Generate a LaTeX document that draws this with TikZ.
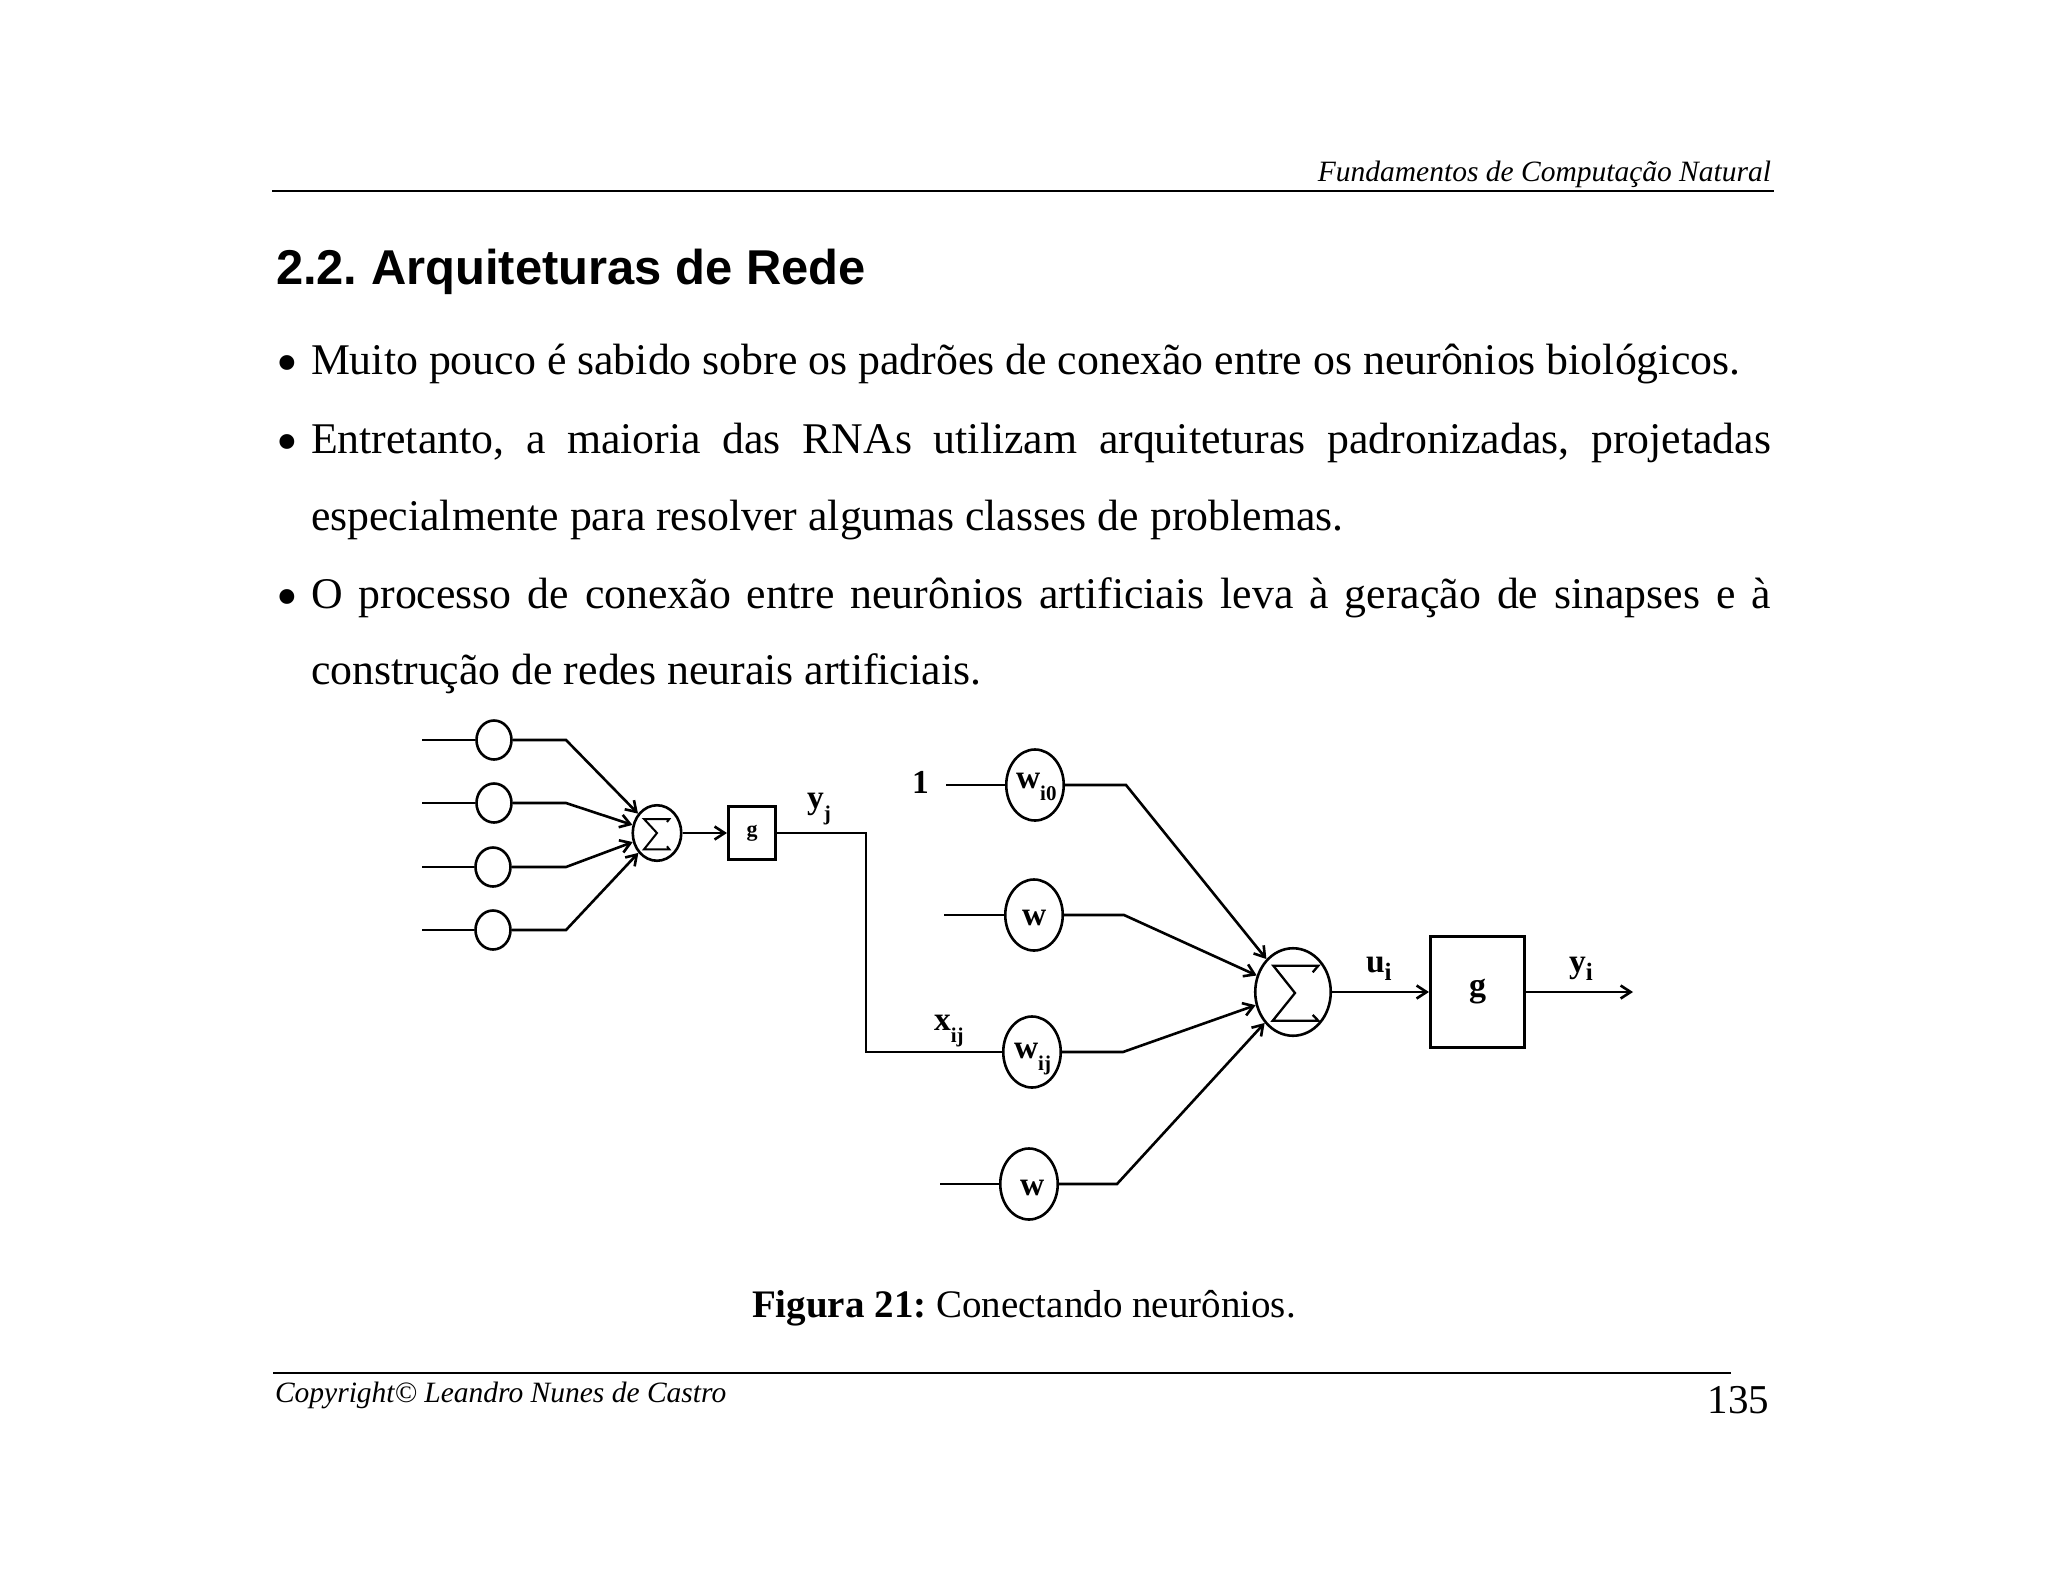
\documentclass[tikz,border=0pt]{standalone}
\usepackage{fontspec}
\setmainfont{Liberation Serif}
\newfontfamily\arialfont{Liberation Sans}
\usetikzlibrary{shapes.geometric,arrows.meta}
\frenchspacing
\newcommand\lbl[4]{\textbf{#1}\raisebox{-#3pt}{\fontsize{#4}{#4}\selectfont\bfseries #2}}
\newcommand\bigbul{\raisebox{-9pt}{\fontsize{62}{62}\selectfont\textbullet}}
\begin{document}
\begin{tikzpicture}[x=1pt,y=-1pt,
  ln/.style={line width=2.6pt, line cap=butt, line join=miter},
  arr/.style={ln, -{Straight Barb[length=10pt,width=13pt]}},
  txt/.style={inner sep=0pt, outer sep=0pt, anchor=base west},
  body/.style={txt, font=\fontsize{43.8}{52}\selectfont},
  lab/.style={txt, font=\fontsize{33.5}{36}\selectfont\bfseries},
  incirc/.style={ellipse, draw, line width=2.6pt, minimum width=35pt, minimum height=39pt, inner sep=0pt},
  wcirc/.style={ellipse, draw, line width=2.6pt, minimum width=57.5pt, minimum height=71pt, inner sep=0pt},
  sumA/.style={ellipse, draw, line width=2.6pt, minimum width=48.5pt, minimum height=55.5pt, inner sep=0pt},
  sumB/.style={ellipse, draw, line width=2.6pt, minimum width=75.5pt, minimum height=87.5pt, inner sep=0pt},
  gbox/.style={rectangle, draw, line width=2.6pt, inner sep=0pt, font=\bfseries},
  sig/.style={line width=2.3pt, line join=miter, line cap=butt}
]
\useasboundingbox (0,0) rectangle (2048,1582);
\fill[white] (0,0) rectangle (2048,1582);

% header
\node[txt, anchor=base east, font=\fontsize{29.5}{34}\selectfont\itshape] (hdr) at (1771,181) {Fundamentos de Computação Natural};
\coordinate (hl1) at (272,191);
\coordinate (hl2) at (1774,191);
\draw[line width=2pt] (hl1) -- (hl2);

% title
\node[txt, font=\fontsize{48.9}{56}\selectfont\arialfont\bfseries] (title) at (276,284) {2.2. Arquiteturas de Rede};

% bullets
\node[body] (bu1) at (276,374) {\bigbul};
\node[body] (t1) at (311,374) {Muito pouco é sabido sobre os padrões de conexão entre os neurônios biológicos.};
\node[body] (bu2) at (276,453) {\bigbul};
\node[body] (t2) at (311,453) {\makebox[1460pt][s]{Entretanto, a maioria das RNAs utilizam arquiteturas padronizadas, projetadas}};
\node[body] (t3) at (311,530) {especialmente para resolver algumas classes de problemas.};
\node[body] (bu3) at (276,608) {\bigbul};
\node[body] (t4) at (311,608) {\makebox[1460pt][s]{O processo de conexão entre neurônios artificiais leva à geração de sinapses e à}};
\node[body] (t5) at (311,684) {construção de redes neurais artificiais.};

% ---------- left neuron ----------
\node[incirc] (c1) at (494,740) {};
\node[incirc] (c2) at (494,803) {};
\node[incirc] (c3) at (493,867) {};
\node[incirc] (c4) at (493,930) {};
\node[sumA] (s1) at (657,833) {};
\node[gbox, minimum width=47.5pt, minimum height=52.5pt, font=\fontsize{22}{24}\selectfont\bfseries] (g1) at (752,833) {g};

\coordinate (i1) at (422,740);
\coordinate (i2) at (422,803);
\coordinate (i3) at (422,867);
\coordinate (i4) at (422,930);
\coordinate (k1) at (566,740);
\coordinate (k2) at (566,803);
\coordinate (k3) at (566,867);
\coordinate (k4) at (566,930);
\draw[ln] (i1) -- (c1);
\draw[ln] (i2) -- (c2);
\draw[ln] (i3) -- (c3);
\draw[ln] (i4) -- (c4);
\draw[arr] (c1) -- (k1) -- (s1);
\draw[arr] (c2) -- (k2) -- (s1);
\draw[arr] (c3) -- (k3) -- (s1);
\draw[arr] (c4) -- (k4) -- (s1);
\draw[arr] (s1) -- (g1);
\draw[sig, line width=2pt] ([shift={(10,-11)}]s1.center) -- ([shift={(12.3,-14)}]s1.center) -- ([shift={(-13,-14)}]s1.center) -- ([shift={(0,0)}]s1.center) -- ([shift={(-13,16.3)}]s1.center) -- ([shift={(12.3,16.3)}]s1.center) -- ([shift={(10,13.3)}]s1.center);

\node[lab] (yj) at (807,808) {\lbl{y}{j}{12}{21}};

% ---------- right neuron ----------
\node[wcirc] (w0) at (1035,785) {};
\node[wcirc] (w1) at (1034,915) {};
\node[wcirc] (w2) at (1032,1052) {};
\node[wcirc] (w3) at (1029,1184) {};
\node[sumB] (s2) at (1293,992) {};
\node[gbox, minimum width=94.5pt, minimum height=111pt, font=\fontsize{34}{36}\selectfont\bfseries] (g2) at (1477.5,992) {g};

\coordinate (k5) at (866,833);
\coordinate (k6) at (866,1052);
\draw[ln] (g1) -- (k5) -- (k6) -- (w2);

\coordinate (a0) at (946,785);
\coordinate (a1) at (944,915);
\coordinate (a3) at (940,1184);
\draw[ln] (a0) -- (w0);
\draw[ln] (a1) -- (w1);
\draw[ln] (a3) -- (w3);

\coordinate (b0) at (1126,785);
\coordinate (b1) at (1124,915);
\coordinate (b2) at (1123,1052);
\coordinate (b3) at (1117,1184);
\draw[arr] (w0) -- (b0) -- (s2);
\draw[arr] (w1) -- (b1) -- (s2);
\draw[arr] (w2) -- (b2) -- (s2);
\draw[arr] (w3) -- (b3) -- (s2);

\draw[sig] ([shift={(19.7,-19.7)}]s2.center) -- ([shift={(25.3,-26.3)}]s2.center) -- ([shift={(-19.7,-26.3)}]s2.center) -- ([shift={(2,1)}]s2.center) -- ([shift={(-20.3,28.7)}]s2.center) -- ([shift={(25.3,28.7)}]s2.center) -- ([shift={(19.7,23)}]s2.center);

\coordinate (out) at (1633,992);
\draw[arr] (s2) -- (g2);
\draw[arr] (g2) -- (out);

% labels
\node[lab] (one) at (912,793) {1};
\node[lab] (lw0) at (1016,788) {\lbl{w}{i0}{12}{21}};
\node[lab] (lw1) at (1022,925) {w};
\node[lab] (lw2) at (1014,1058) {\lbl{w}{ij}{12}{21}};
\node[lab] (lw3) at (1020,1195) {w};
\node[lab] (xij) at (934,1030) {\lbl{x}{ij}{12}{21}};
\node[lab] (ui) at (1366,972) {\lbl{u}{i}{8}{25}};
\node[lab] (yi) at (1569,972) {\lbl{y}{i}{8}{25}};

% caption
\node[txt, anchor=base, font=\fontsize{39}{46}\selectfont] (cap) at (1024,1317) {\textbf{Figura 21:} Conectando neurônios.};

% footer
\coordinate (fl1) at (273,1373);
\coordinate (fl2) at (1731,1373);
\draw[line width=2pt] (fl1) -- (fl2);
\node[txt, font=\fontsize{29.5}{34}\selectfont\itshape] (ftr) at (275,1402) {Copyright© Leandro Nunes de Castro};
\node[txt, anchor=base east, font=\fontsize{41}{46}\selectfont] (pg) at (1769,1413) {135};
\end{tikzpicture}
\end{document}
